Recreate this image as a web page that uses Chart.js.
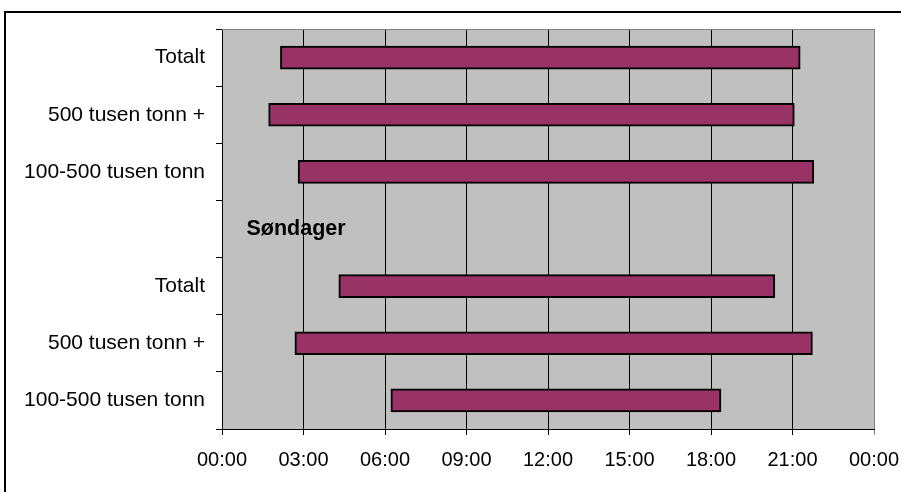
<!DOCTYPE html>
<html>
<head>
<meta charset="utf-8">
<title>Åpningstid</title>
<script src="https://cdn.jsdelivr.net/npm/chart.js@4/dist/chart.umd.min.js"></script>
<style>
  html, body { margin: 0; padding: 0; background: #ffffff; }
  #wrap { width: 901px; height: 492px; position: relative; }
</style>
</head>
<body>
<div id="wrap"><canvas id="c" width="901" height="492"></canvas></div>
<script>
// Rows from top to bottom; the empty row holds the "Søndager" heading.
const categories = ['Totalt', '500 tusen tonn +', '100-500 tusen tonn', '', 'Totalt', '500 tusen tonn +', '100-500 tusen tonn'];
// Opening and closing times per row (HH:MM)
const startTimes = ['02:09', '01:43', '02:48', null, '04:18', '02:41', '06:13'];
const endTimes   = ['21:17', '21:04', '21:47', null, '20:21', '21:44', '18:22'];
const sectionLabel = 'Søndager';
const sectionRow = 3;
// Hour axis: 00:00 to 24:00 in steps of 3 hours
const axisMin = 0, axisMax = 24, axisStep = 3;

const FONT = '"Liberation Sans", Arial, Helvetica, sans-serif';

function toHours(t) {
  if (t === null) return null;
  const [h, m] = t.split(':').map(Number);
  return h + m / 60;
}
function hourLabel(v) {
  const h = ((v % 24) + 24) % 24;
  return String(h).padStart(2, '0') + ':00';
}

const ranges = categories.map((_, i) =>
  startTimes[i] === null ? null : [toHours(startTimes[i]), toHours(endTimes[i])]);

const frame = {
  id: 'frame',
  beforeDraw(chart) {
    const { ctx, chartArea: a } = chart;
    ctx.save();
    ctx.fillStyle = '#c0c0c0';
    ctx.fillRect(a.left, a.top, a.right - a.left, a.bottom - a.top);
    ctx.restore();
  },
  beforeDatasetsDraw(chart) {
    const { ctx, chartArea: a } = chart;
    ctx.save();
    ctx.strokeStyle = '#808080';
    ctx.lineWidth = 1;
    ctx.beginPath();
    ctx.moveTo(a.left, a.top + 0.5);
    ctx.lineTo(a.right, a.top + 0.5);
    ctx.stroke();
    ctx.restore();
  },
  afterDraw(chart) {
    const { ctx, chartArea: a, scales } = chart;
    ctx.save();
    // section heading inside the plot
    ctx.font = 'bold 21.5px ' + FONT;
    ctx.fillStyle = '#000';
    ctx.textAlign = 'left';
    ctx.textBaseline = 'middle';
    ctx.fillText(sectionLabel, a.left + 24.5, scales.y.getPixelForValue(sectionRow));
    // outer chart border
    ctx.strokeStyle = '#000';
    ctx.lineWidth = 2;
    ctx.strokeRect(5, 12, 898, 490);
    ctx.restore();
  }
};

new Chart(document.getElementById('c'), {
  type: 'bar',
  data: {
    labels: categories,
    datasets: [{
      data: ranges,
      backgroundColor: '#993366',
      borderColor: '#000000',
      borderWidth: 2,
      borderSkipped: false,
      barThickness: 23
    }]
  },
  options: {
    indexAxis: 'y',
    responsive: false,
    animation: false,
    events: [],
    layout: { padding: { top: 29, right: 27, left: 0, bottom: 0 } },
    plugins: { legend: { display: false }, tooltip: { enabled: false } },
    scales: {
      x: {
        type: 'linear',
        min: axisMin,
        max: axisMax,
        afterFit(s) {
          s.height = 63;
          // the last hour label may run into the right margin
          s.paddingLeft = 0;
          s.paddingRight = 0;
        },
        ticks: {
          stepSize: axisStep,
          callback: v => hourLabel(v),
          color: '#000',
          font: { family: FONT, size: 20 },
          padding: 13,
          maxRotation: 0,
          autoSkip: false
        },
        grid: {
          color: c => (c.tick && c.tick.value === axisMax ? '#808080' : '#000000'),
          lineWidth: 1,
          tickLength: 6,
          drawTicks: true
        },
        border: { color: '#000', width: 1 }
      },
      y: {
        type: 'category',
        offset: true,
        afterFit(s) { s.width = 222; },
        ticks: {
          color: '#000',
          font: { family: FONT, size: 21 },
          padding: 11
        },
        grid: {
          offset: true,
          drawOnChartArea: false,
          drawTicks: true,
          tickLength: 6,
          color: '#000',
          lineWidth: 1
        },
        border: { color: '#000', width: 1 }
      }
    }
  },
  plugins: [frame]
});
</script>
</body>
</html>
